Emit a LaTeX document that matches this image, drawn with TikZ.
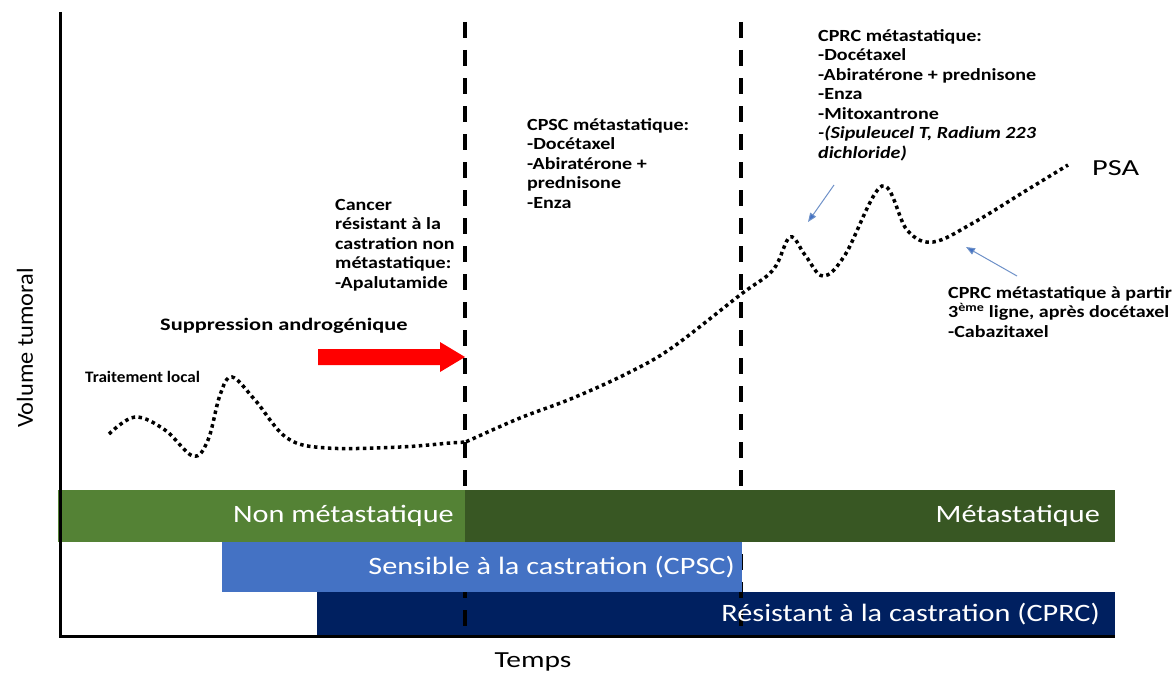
\documentclass[tikz,border=0pt]{standalone}
\usepackage{fontspec}
\setmainfont{Carlito}
\newfontfamily\fannot[FakeStretch=1.18]{Carlito}
\newfontfamily\fsupp[FakeStretch=1.28]{Carlito}
\newfontfamily\ftrait[FakeStretch=1.07]{Carlito Bold}
\newfontfamily\fbar[FakeStretch=1.21]{Carlito}
\newfontfamily\fvol[FakeStretch=1.06]{Carlito}
\newfontfamily\ftemps[FakeStretch=1.28]{Carlito}
\newfontfamily\fpsa[FakeStretch=1.32]{Carlito}
\usetikzlibrary{arrows.meta}
\definecolor{lgreen}{RGB}{84,130,53}
\definecolor{dgreen}{RGB}{56,87,35}
\definecolor{mblue}{RGB}{68,114,196}
\definecolor{navy}{RGB}{0,32,96}
\definecolor{pblue}{RGB}{110,145,200}
\begin{document}
\begin{tikzpicture}[x=1pt,y=-1pt,
  ann/.style={font=\fannot\bfseries\fontsize{17}{19.5}\selectfont, align=left, inner sep=0pt, anchor=north west},
  barlabel/.style={font=\fbar\fontsize{25}{28}\selectfont, text=white, inner sep=0pt, anchor=east},
  divider/.style={line width=4pt, dash pattern=on 16pt off 12pt},
  psacurve/.style={line width=3.5pt, dash pattern=on 3.5pt off 3.5pt},
  pointer/.style={draw=pblue, line width=1pt, -{Triangle[length=9pt,width=7pt,fill=mblue]}}]
\path[use as bounding box] (0,0) rectangle (1174,677);
% dividers and bars
\fill[navy] (317,592) rectangle (1115,636);
\coordinate (d1t) at (465,22); \coordinate (d1b) at (465,636);
\coordinate (d2t) at (741,22); \coordinate (d2b) at (741,636);
\draw[divider] (d1t) -- (d1b);
\draw[divider] (d2t) -- (d2b);
\fill[lgreen] (58,490) rectangle (465,542);
\fill[dgreen] (465,490) rectangle (1115,542);
\fill[mblue] (222,542) rectangle (742,592);
\node[barlabel] (nonmeta) at (454,516) {Non métastatique};
\node[barlabel] (meta) at (1100,516) {Métastatique};
\node[barlabel] (cpsc) at (735,567) {Sensible à la castration (CPSC)};
\node[barlabel] (cprc) at (1100,614) {Résistant à la castration (CPRC)};
% axes
\coordinate (top) at (60,12);
\coordinate (origin) at (60,636);
\coordinate (xend) at (1115,636);
\draw[line width=3pt] (top) -- (origin) -- (xend);
\node[font=\fvol\fontsize{23}{26}\selectfont, inner sep=0pt, rotate=90] (ylab) at (25,348) {Volume tumoral};
\node[font=\ftemps\fontsize{23}{26}\selectfont, inner sep=0pt] (xlab) at (533,662) {Temps};
% red arrow
\fill[red] (318,349) -- (440,349) -- (440,342) -- (465,357) -- (440,372) -- (440,365) -- (318,365) -- cycle;
% PSA curve
\draw[psacurve] plot[smooth, tension=0.6] coordinates {
 (109,434) (135,417) (165,430) (193,456) (208,440) (220,395) (232,377) (255,400) (287,438) (327,448) (400,447) (450,443) (465,442)
 (470,440) (520,418) (573,398) (630,372) (673,347) (740,295) (773,270) (790,237) (805,255) (823,276) (845,255) (882,186) (907,230) (933,242) (973,223) (1027,190) (1068,165)};
% labels
\node[ann, font=\ftrait\fontsize{16}{19}\selectfont] (tl) at (85,371) {Traitement local};
\node[ann, font=\fsupp\bfseries\fontsize{17.5}{19}\selectfont] (sa) at (160,318) {Suppression androgénique};
\node[ann] (nmcrpc) at (335,199) {Cancer\\résistant à la\\castration non\\métastatique:\\-Apalutamide};
\node[ann] (mcspc) at (527,118) {CPSC métastatique:\\-Docétaxel\\-Abiratérone +\\prednisone\\-Enza};
\node[ann] (mcrpc) at (818,29) {CPRC métastatique:\\-Docétaxel\\-Abiratérone + prednisone\\-Enza\\-Mitoxantrone\\\textit{-(Sipuleucel T, Radium 223}\\\textit{dichloride)}};
\node[ann] (third) at (948,286) {CPRC métastatique à partir\\3\textsuperscript{ème} ligne, après docétaxel\\-Cabazitaxel};
\node[font=\fpsa\fontsize{23}{26}\selectfont, inner sep=0pt, anchor=west] (psa) at (1092,168) {PSA};
% pointers
\coordinate (p1s) at (834,185); \coordinate (p1e) at (808,222);
\coordinate (p2s) at (1017,276); \coordinate (p2e) at (966,247);
\draw[pointer] (p1s) -- (p1e);
\draw[pointer] (p2s) -- (p2e);
\end{tikzpicture}
\end{document}
